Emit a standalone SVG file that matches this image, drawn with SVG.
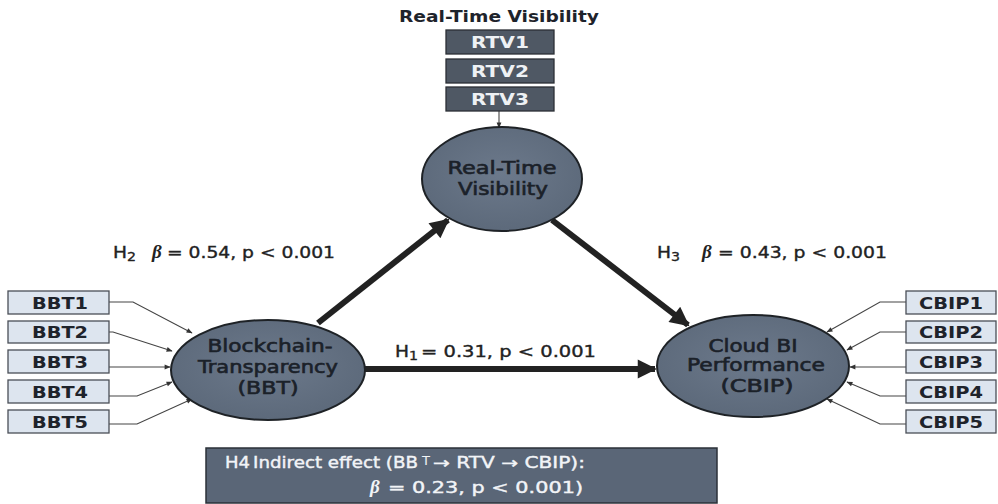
<svg xmlns="http://www.w3.org/2000/svg" width="998" height="504" viewBox="0 0 998 504">
  <defs>
    <marker id="big" viewBox="0 0 10 10" refX="9" refY="5" markerWidth="3.7" markerHeight="3.2" markerUnits="strokeWidth" orient="auto">
      <path d="M0,0 L10,5 L0,10 Z" fill="#222"/>
    </marker>
    <marker id="small" viewBox="0 0 10 10" refX="9" refY="5" markerWidth="7" markerHeight="6" markerUnits="userSpaceOnUse" orient="auto">
      <path d="M0,1 L10,5 L0,9 Z" fill="#333"/>
    </marker>
    <radialGradient id="lat" cx="0.5" cy="0.45" r="0.6">
      <stop offset="0" stop-color="#6c798b"/>
      <stop offset="1" stop-color="#5b6879"/>
    </radialGradient>
  </defs>
  <style>
    text { font-family: "DejaVu Sans", "Liberation Sans", sans-serif; }
    .ind { fill: #dde5ef; stroke: #4a4f57; stroke-width: 1.3; }
    .indt { font-weight: 700; font-size: 16px; fill: #1e232b; text-anchor: middle; }
    .rtvb { fill: #4f5864; stroke: #2b2f35; stroke-width: 1.3; }
    .rtvt { font-weight: 700; font-size: 16px; fill: #eef1f4; text-anchor: middle; }
    .lat { fill: url(#lat); stroke: #1e2226; stroke-width: 2; }
    .latt { font-size: 17px; fill: #1b2129; stroke: #1b2129; stroke-width: 0.6; text-anchor: middle; }
    .lbl { font-size: 15px; fill: #222; stroke: #222; stroke-width: 0.35; }
    .beta { font-family: "Liberation Serif", serif; font-style: italic; font-weight: 700; font-size: 19px; stroke-width: 0; }
    .thick { stroke: #222; stroke-width: 6; fill: none; }
    .thin { stroke: #444; stroke-width: 1.1; fill: none; }
    .title { font-weight: 700; font-size: 15.5px; fill: #1e232b; text-anchor: middle; }
    .h4box { fill: #5a6677; stroke: #2b3038; stroke-width: 1.5; }
    .h4t { font-size: 15.5px; fill: #f2f4f7; stroke: #f2f4f7; stroke-width: 0.4; }
  </style>

  <!-- connectors -->
  <g id="connectors">
    <!-- structural paths -->
    <line class="thick" x1="318" y1="323" x2="448" y2="220" marker-end="url(#big)"/>
    <line class="thick" x1="552" y1="220" x2="688" y2="325" marker-end="url(#big)"/>
    <line class="thick" x1="365" y1="369" x2="655" y2="369" marker-end="url(#big)"/>
    <!-- RTV indicator -->
    <line class="thin" x1="499" y1="111" x2="499" y2="128" marker-end="url(#small)"/>
    <!-- BBT indicators -->
    <polyline class="thin" points="109,302 133,302 192,333" marker-end="url(#small)"/>
    <polyline class="thin" points="109,332 113,332 172,351" marker-end="url(#small)"/>
    <polyline class="thin" points="109,367 170,367" marker-end="url(#small)"/>
    <polyline class="thin" points="109,396 137,396 172,382" marker-end="url(#small)"/>
    <polyline class="thin" points="109,424 137,424 192,399" marker-end="url(#small)"/>
    <!-- CBIP indicators -->
    <polyline class="thin" points="906,302 880,302 827,332" marker-end="url(#small)"/>
    <polyline class="thin" points="906,332 880,332 847,350" marker-end="url(#small)"/>
    <polyline class="thin" points="906,367 850,367" marker-end="url(#small)"/>
    <polyline class="thin" points="906,396 880,396 847,382" marker-end="url(#small)"/>
    <polyline class="thin" points="906,424 880,424 827,399" marker-end="url(#small)"/>
  </g>

  <!-- path labels -->
  <g id="labels">
    <text class="lbl" y="258"><tspan x="113" textLength="14" lengthAdjust="spacingAndGlyphs">H</tspan><tspan x="127" dy="3" font-size="13" textLength="9" lengthAdjust="spacingAndGlyphs">2</tspan><tspan x="152" dy="-3" class="beta">β</tspan><tspan x="167" textLength="168" lengthAdjust="spacingAndGlyphs">= 0.54, p &lt; 0.001</tspan></text>
    <text class="lbl" y="258"><tspan x="657" textLength="14" lengthAdjust="spacingAndGlyphs">H</tspan><tspan x="671" dy="3" font-size="13" textLength="9" lengthAdjust="spacingAndGlyphs">3</tspan><tspan x="702" dy="-3" class="beta">β</tspan><tspan x="718" textLength="169" lengthAdjust="spacingAndGlyphs">= 0.43, p &lt; 0.001</tspan></text>
    <text class="lbl" y="357"><tspan x="395" textLength="14" lengthAdjust="spacingAndGlyphs">H</tspan><tspan x="409" dy="3" font-size="13" textLength="9" lengthAdjust="spacingAndGlyphs">1</tspan><tspan x="421" dy="-3" textLength="175" lengthAdjust="spacingAndGlyphs">= 0.31, p &lt; 0.001</tspan></text>
  </g>

  <!-- Real-Time Visibility indicators -->
  <g id="rtv-indicators">
    <text class="title" x="499" y="22" textLength="200" lengthAdjust="spacingAndGlyphs">Real-Time Visibility</text>
    <rect class="rtvb" x="446" y="30" width="108" height="24"/>
    <text class="rtvt" x="500" y="48" textLength="58" lengthAdjust="spacingAndGlyphs">RTV1</text>
    <rect class="rtvb" x="446" y="59" width="108" height="24"/>
    <text class="rtvt" x="500" y="77" textLength="58" lengthAdjust="spacingAndGlyphs">RTV2</text>
    <rect class="rtvb" x="446" y="87" width="108" height="24"/>
    <text class="rtvt" x="500" y="105" textLength="58" lengthAdjust="spacingAndGlyphs">RTV3</text>
  </g>

  <g id="rtv">
    <ellipse class="lat" cx="502" cy="179" rx="80" ry="52"/>
    <text class="latt" x="502" y="174" textLength="109" lengthAdjust="spacingAndGlyphs">Real-Time</text>
    <text class="latt" x="503" y="195" textLength="90" lengthAdjust="spacingAndGlyphs">Visibility</text>
  </g>

  <g id="bbt">
    <ellipse class="lat" cx="268" cy="370" rx="97" ry="50"/>
    <text class="latt" x="270" y="352" textLength="125" lengthAdjust="spacingAndGlyphs">Blockchain-</text>
    <text class="latt" x="268" y="373" textLength="140" lengthAdjust="spacingAndGlyphs">Transparency</text>
    <text class="latt" x="268" y="394" textLength="61" lengthAdjust="spacingAndGlyphs">(BBT)</text>
  </g>

  <g id="cbip">
    <ellipse class="lat" cx="753" cy="366" rx="96" ry="51"/>
    <text class="latt" x="753" y="352" textLength="89" lengthAdjust="spacingAndGlyphs">Cloud BI</text>
    <text class="latt" x="756" y="371" textLength="138" lengthAdjust="spacingAndGlyphs">Performance</text>
    <text class="latt" x="757" y="392" textLength="73" lengthAdjust="spacingAndGlyphs">(CBIP)</text>
  </g>

  <g id="bbt-indicators">
    <rect class="ind" x="8" y="291" width="101" height="23"/>
    <text class="indt" x="60" y="308.5" textLength="56" lengthAdjust="spacingAndGlyphs">BBT1</text>
    <rect class="ind" x="8" y="321" width="101" height="22"/>
    <text class="indt" x="60" y="338" textLength="56" lengthAdjust="spacingAndGlyphs">BBT2</text>
    <rect class="ind" x="8" y="350" width="101" height="23"/>
    <text class="indt" x="60" y="367.5" textLength="56" lengthAdjust="spacingAndGlyphs">BBT3</text>
    <rect class="ind" x="8" y="380" width="101" height="23"/>
    <text class="indt" x="60" y="397.5" textLength="56" lengthAdjust="spacingAndGlyphs">BBT4</text>
    <rect class="ind" x="8" y="410" width="101" height="23"/>
    <text class="indt" x="60" y="427.5" textLength="56" lengthAdjust="spacingAndGlyphs">BBT5</text>
  </g>

  <g id="cbip-indicators">
    <rect class="ind" x="906" y="291" width="90" height="23"/>
    <text class="indt" x="951" y="308.5" textLength="64" lengthAdjust="spacingAndGlyphs">CBIP1</text>
    <rect class="ind" x="906" y="321" width="90" height="22"/>
    <text class="indt" x="951" y="338" textLength="64" lengthAdjust="spacingAndGlyphs">CBIP2</text>
    <rect class="ind" x="906" y="350" width="90" height="23"/>
    <text class="indt" x="951" y="367.5" textLength="64" lengthAdjust="spacingAndGlyphs">CBIP3</text>
    <rect class="ind" x="906" y="380" width="90" height="23"/>
    <text class="indt" x="951" y="397.5" textLength="64" lengthAdjust="spacingAndGlyphs">CBIP4</text>
    <rect class="ind" x="906" y="410" width="90" height="23"/>
    <text class="indt" x="951" y="427.5" textLength="64" lengthAdjust="spacingAndGlyphs">CBIP5</text>
  </g>

  <g id="h4">
    <rect class="h4box" x="206" y="448" width="511" height="55"/>
    <text class="h4t" y="468"><tspan x="225" textLength="25" lengthAdjust="spacingAndGlyphs">H4</tspan><tspan x="253" textLength="165" lengthAdjust="spacingAndGlyphs">Indirect effect (BB</tspan><tspan x="422" dy="-3" font-size="12" stroke-width="0" textLength="8" lengthAdjust="spacingAndGlyphs">T</tspan><tspan x="433" dy="3" textLength="152" lengthAdjust="spacingAndGlyphs">→ RTV → CBIP):</tspan></text>
    <text class="h4t" y="493"><tspan x="370" class="beta" font-size="20">β</tspan><tspan x="388" textLength="195" lengthAdjust="spacingAndGlyphs">= 0.23, p &lt; 0.001)</tspan></text>
  </g>
</svg>
